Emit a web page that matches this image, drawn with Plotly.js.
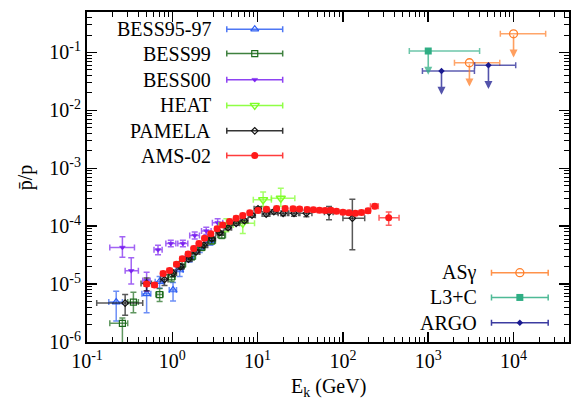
<!DOCTYPE html>
<html><head><meta charset="utf-8">
<script src="https://cdn.plot.ly/plotly-3.0.1.min.js"></script>
<style>html,body{margin:0;padding:0;background:#fff}</style>
</head><body><div id="chart" style="width:572px;height:403px"></div>
<script>
// ---------- data (kinetic energy in GeV, antiproton/proton ratio) ----------
const AMS_E   = [0.50,0.62,0.78,0.93,1.12,1.31,1.53,1.78,2.05,2.39,2.83,3.35,3.90,4.70,5.60,6.70,8.10,10.1,12.7,16.7,21.0,26.0,31.0,38.0,45.0,53.0,62.0,72.0,84.0,100,118,140,165,197,236,344];
const AMS_R   = [1.00e-5,0.96e-5,1.53e-5,1.72e-5,2.20e-5,2.75e-5,3.30e-5,4.10e-5,5.00e-5,6.20e-5,7.40e-5,9.00e-5,1.05e-4,1.20e-4,1.37e-4,1.53e-4,1.70e-4,1.86e-4,1.96e-4,2.02e-4,2.02e-4,2.00e-4,1.98e-4,1.95e-4,1.92e-4,1.88e-4,1.86e-4,1.88e-4,1.82e-4,1.74e-4,1.70e-4,1.67e-4,1.72e-4,1.84e-4,2.22e-4,1.40e-4];
const AMS_dEm = [0.03,0.04,0.05,0.06,0.07,0.08,0.09,0.1,0.12,0.14,0.17,0.2,0.23,0.28,0.33,0.4,0.5,0.6,0.8,1.0,1.3,1.6,1.9,2.3,2.7,3.2,3.7,4.3,5,6,7,8,10,12,26,79];
const AMS_dEp = [0.03,0.04,0.05,0.06,0.07,0.08,0.09,0.1,0.12,0.14,0.17,0.2,0.23,0.28,0.33,0.4,0.5,0.6,0.8,1.0,1.3,1.6,1.9,2.3,2.7,3.2,3.7,4.3,5,6,7,8,10,12,24,111];
const AMS_dR  = [0.08e-5,0.08e-5,0.1e-5,0.1e-5,0.12e-5,0.14e-5,0.16e-5,0.2e-5,0.22e-5,0.25e-5,0.3e-5,0.35e-5,0.4e-5,0.45e-5,0.5e-5,0.55e-5,0.6e-5,0.65e-5,0.7e-5,0.7e-5,0.7e-5,0.7e-5,0.7e-5,0.7e-5,0.7e-5,0.75e-5,0.8e-5,0.8e-5,0.85e-5,0.9e-5,1.0e-5,1.1e-5,1.2e-5,1.4e-5,2.0e-5,3.6e-5];

const PAM_E   = [0.28,0.50,0.81,1.02,1.25,1.55,1.90,2.35,2.90,3.60,4.50,5.60,7.00,8.60,10.1,12.6,15.5,19.9,26.7,37.3,68.7,129];
const PAM_R   = [4.7e-6,1.02e-5,1.2e-5,1.55e-5,2.0e-5,2.7e-5,3.6e-5,4.7e-5,6.1e-5,7.7e-5,9.4e-5,1.12e-4,1.25e-4,1.55e-4,2.0e-4,1.62e-4,1.78e-4,1.67e-4,1.67e-4,1.67e-4,1.74e-4,1.37e-4];
const PAM_dEm = [0.15,0.07,0.08,0.1,0.12,0.15,0.2,0.25,0.3,0.35,0.45,0.55,0.7,0.8,1.0,1.3,1.6,2.5,3.5,6,8,29];
const PAM_dEp = [0.17,0.07,0.08,0.1,0.12,0.15,0.2,0.25,0.3,0.35,0.45,0.55,0.7,0.8,1.0,1.3,1.6,2.5,3.5,6,8,51];
const PAM_dRp = [1.9e-6,2.5e-6,2.5e-6,2e-6,2e-6,2.5e-6,3e-6,4e-6,5e-6,6e-6,7e-6,8e-6,1e-5,1.2e-5,1.4e-5,1.4e-5,1.5e-5,1.6e-5,1.8e-5,2.2e-5,4.5e-5,1.55e-4];
const PAM_dRm = [1.8e-6,2.5e-6,2.5e-6,2e-6,2e-6,2.5e-6,3e-6,4e-6,5e-6,6e-6,7e-6,8e-6,1e-5,1.2e-5,1.4e-5,1.4e-5,1.5e-5,1.6e-5,1.8e-5,2.2e-5,4.5e-5,0.98e-4];

const B97_E  = [0.22,0.50,0.71,1.02,1.22,1.60,2.10,2.80];
const B97_R  = [4.9e-6,6.8e-6,1.1e-5,7.9e-6,1.75e-5,2.9e-5,4.2e-5,5.6e-5];
const B97_dE = [0.04,0.06,0.08,0.1,0.12,0.18,0.25,0.35];
const B97_dR = [2.6e-6,3.6e-6,2.5e-6,2.8e-6,4e-6,5e-6,7e-6,9e-6];

const B99_E   = [0.26,0.35,0.71,0.98,1.30,1.70,2.20,2.90,3.80];
const B99_R   = [2.1e-6,4.9e-6,6.6e-6,1.33e-5,2.2e-5,3.0e-5,4.3e-5,5.6e-5,7.0e-5];
const B99_dEm = [0.075,0.05,0.07,0.1,0.13,0.17,0.22,0.3,0.4];
const B99_dEp = [0.04,0.05,0.07,0.1,0.13,0.17,0.22,0.3,0.4];
const B99_dRp = [0.5e-6,2.3e-6,1.8e-6,2.5e-6,3e-6,4e-6,5e-6,7e-6,9e-6];
const B99_dRm = [2.05e-6,1.7e-6,1.6e-6,2.3e-6,3e-6,4e-6,5e-6,7e-6,9e-6];

const B00_E   = [0.26,0.33,0.50,0.68,0.96,1.33,1.83,2.50,3.40];
const B00_R   = [4.3e-5,1.7e-5,1.15e-5,3.9e-5,5.0e-5,5.0e-5,6.9e-5,8.3e-5,1.15e-4];
const B00_dEm = [0.075,0.05,0.05,0.07,0.12,0.17,0.23,0.3,0.45];
const B00_dEp = [0.10,0.07,0.05,0.08,0.14,0.19,0.25,0.35,0.5];
const B00_dRp = [2.3e-5,1.15e-5,4.5e-6,8e-6,7e-6,7e-6,1e-5,1.3e-5,2e-5];
const B00_dRm = [1.4e-5,0.7e-5,4e-6,7e-6,6e-6,6e-6,9e-6,1.1e-5,1.7e-5];

const HEAT_E   = [4.3,6.7,11.6,18.7];
const HEAT_R   = [1.05e-4,1.12e-4,2.86e-4,3.04e-4];
const HEAT_dEm = [0.8,1.8,2.7,4.2];
const HEAT_dEp = [0.9,2.5,2.9,8.6];
const HEAT_dRp = [3e-5,4.8e-5,1.05e-4,1.5e-4];
const HEAT_dRm = [2.5e-5,3.7e-5,6.7e-5,8.5e-5];

// upper limits
const ASG_E = [3040,10000], ASG_R = [0.0665,0.21], ASG_dEm = [1010,3000], ASG_dEp = [3850,13800];
const L3C_E = [1000],       L3C_R = [0.106],        L3C_dEm = [400],       L3C_dEp = [3000];
const ARGO_E = [1430,5080], ARGO_R = [0.048,0.060], ARGO_dEm = [575,1580], ARGO_dEp = [2050,5520];

const X_TICKS = [0.1,1,10,100,1000,10000];
const X_TICKTEXT = ['10<sup>-1</sup>','10<sup>0</sup>','10<sup>1</sup>','10<sup>2</sup>','10<sup>3</sup>','10<sup>4</sup>'];
const Y_TICKS = [1e-6,1e-5,1e-4,1e-3,1e-2,1e-1];
const Y_TICKTEXT = ['10<sup>-6</sup>','10<sup>-5</sup>','10<sup>-4</sup>','10<sup>-3</sup>','10<sup>-2</sup>','10<sup>-1</sup>'];
const X_TITLE = 'E<sub>k</sub> (GeV)';
const Y_TITLE = 'p\u0304/p';

// ---------- styling ----------
const FONT = '"Liberation Serif", "DejaVu Serif", serif';
function rgba(hex, a){const n=parseInt(hex.slice(1),16);return `rgba(${n>>16},${(n>>8)&255},${n&255},${a})`;}
function errTrace(name, E, R, dEm, dEp, dRm, dRp, color, symbol, size, lineW){
  return {type:'scatter', mode:'markers', name, x:E, y:R, showlegend:false, xaxis:'x', yaxis:'y',
    marker:{color:color, symbol:symbol, size:size, line:{color:color, width:lineW}},
    error_x:{type:'data', symmetric:false, array:dEp, arrayminus:dEm, color:rgba(color,0.7), thickness:1.5, width:3},
    error_y:(dRp? {type:'data', symmetric:false, array:dRp, arrayminus:dRm, color:rgba(color,0.7), thickness:1.5, width:3} : {visible:false})
  };
}
const S = {
  B97:{name:'BESS95-97', color:'#2f5ff2', symbol:'triangle-up-open', size:7, lw:1.2},
  B99:{name:'BESS99',    color:'#1d6b1d', symbol:'square-open',      size:6, lw:1.2},
  B00:{name:'BESS00',    color:'#7a22f0', symbol:'triangle-down',    size:5, lw:0.5},
  HEAT:{name:'HEAT',     color:'#7dff26', symbol:'triangle-down-open', size:8, lw:1.4},
  PAM:{name:'PAMELA',    color:'#111111', symbol:'diamond-open',     size:5, lw:1.2},
  AMS:{name:'AMS-02',    color:'#ff1a1a', symbol:'circle',           size:7, lw:0},
  ASG:{name:'AS\u03b3',  color:'#ff7f2a', symbol:'circle-open',      size:8, lw:1.3},
  L3C:{name:'L3+C',      color:'#2fae84', symbol:'square',           size:7, lw:0},
  ARGO:{name:'ARGO',     color:'#1a1a90', symbol:'diamond',          size:5, lw:0}
};

const traces = [
  errTrace(S.B97.name, B97_E, B97_R, B97_dE, B97_dE, B97_dR, B97_dR, S.B97.color, S.B97.symbol, S.B97.size, S.B97.lw),
  errTrace(S.B99.name, B99_E, B99_R, B99_dEm, B99_dEp, B99_dRm, B99_dRp, S.B99.color, S.B99.symbol, S.B99.size, S.B99.lw),
  errTrace(S.B00.name, B00_E, B00_R, B00_dEm, B00_dEp, B00_dRm, B00_dRp, S.B00.color, S.B00.symbol, S.B00.size, S.B00.lw),
  errTrace(S.HEAT.name, HEAT_E, HEAT_R, HEAT_dEm, HEAT_dEp, HEAT_dRm, HEAT_dRp, S.HEAT.color, S.HEAT.symbol, S.HEAT.size, S.HEAT.lw),
  errTrace(S.PAM.name, PAM_E, PAM_R, PAM_dEm, PAM_dEp, PAM_dRm, PAM_dRp, S.PAM.color, S.PAM.symbol, S.PAM.size, S.PAM.lw),
  errTrace(S.AMS.name, AMS_E, AMS_R, AMS_dEm, AMS_dEp, AMS_dR, AMS_dR, S.AMS.color, S.AMS.symbol, S.AMS.size, S.AMS.lw),
  errTrace(S.ASG.name, ASG_E, ASG_R, ASG_dEm, ASG_dEp, null, null, S.ASG.color, S.ASG.symbol, S.ASG.size, S.ASG.lw),
  errTrace(S.L3C.name, L3C_E, L3C_R, L3C_dEm, L3C_dEp, null, null, S.L3C.color, S.L3C.symbol, S.L3C.size, S.L3C.lw),
  errTrace(S.ARGO.name, ARGO_E, ARGO_R, ARGO_dEm, ARGO_dEp, null, null, S.ARGO.color, S.ARGO.symbol, S.ARGO.size, S.ARGO.lw)
];

// ---------- hand-made legends (text left, sample right) on an overlay 0..1 axis ----------
const annotations = [];
function legendBlock(keys, textX, sampleX, half, rowY){
  keys.forEach((k,i)=>{
    const s = S[k];
    traces.push({type:'scatter', mode:'markers', x:[sampleX], y:[rowY[i]], xaxis:'x2', yaxis:'y2', showlegend:false,
      marker:{color:s.color, symbol:s.symbol, size:s.size, line:{color:s.color, width:s.lw}},
      error_x:{type:'data', array:[half], color:rgba(s.color,0.85), thickness:1.5, width:3}});
    annotations.push({xref:'paper', yref:'paper', x:textX, y:rowY[i], xanchor:'right', yanchor:'middle',
      text:s.name, showarrow:false, font:{family:FONT, size:20, color:'#000'}});
  });
}
legendBlock(['B97','B99','B00','HEAT','PAM','AMS'], 0.262, 0.348, 0.058, [0.948,0.874,0.795,0.717,0.640,0.565]);
legendBlock(['ASG','L3C','ARGO'], 0.814, 0.898, 0.0588, [0.210,0.135,0.058]);

// ---------- upper-limit arrows (tail at the limit, head pointing down) ----------
const ARROW_DEC = 0.41;   // arrow length in decades
[[ASG_E,ASG_R,S.ASG.color],[L3C_E,L3C_R,S.L3C.color],[ARGO_E,ARGO_R,S.ARGO.color]].forEach(([E,R,c])=>{
  E.forEach((e,i)=>{
    const lx = Math.log10(e), ly = Math.log10(R[i]);
    annotations.push({xref:'x', yref:'y', axref:'x', ayref:'y', x:lx, y:ly-ARROW_DEC, ax:lx, ay:ly,
      text:'', showarrow:true, arrowhead:2, arrowsize:1, arrowwidth:1.6, arrowcolor:rgba(c,0.75), standoff:0, startstandoff:0});
  });
});

// ---------- axis titles ----------
annotations.push({xref:'paper', yref:'paper', x:0.5, y:-0.139, xanchor:'center', yanchor:'middle', showarrow:false,
  text:X_TITLE, font:{family:FONT, size:20, color:'#000'}});
annotations.push({xref:'paper', yref:'paper', x:-0.128, y:0.5, xanchor:'center', yanchor:'middle', showarrow:false,
  textangle:-90, text:Y_TITLE, font:{family:FONT, size:20, color:'#000'}});

function minorVals(lo, hi){const v=[];for(let p=lo;p<hi;p++){for(let d=2;d<=9;d++)v.push(d*Math.pow(10,p));}return v;}

const axisCommon = {
  showline:true, linecolor:'#000', linewidth:2, mirror:'ticks', ticks:'inside', ticklen:10, tickwidth:1.5, tickcolor:'#000',
  showgrid:false, zeroline:false, tickfont:{family:FONT, size:20, color:'#000'}, tickmode:'array'
};
const layout = {
  width:572, height:403, margin:{l:87, r:3, t:12, b:61}, paper_bgcolor:'#fff', plot_bgcolor:'#fff', showlegend:false,
  font:{family:FONT, size:20, color:'#000'},
  xaxis: Object.assign({}, axisCommon, {type:'log', range:[-1,4.65], tickvals:X_TICKS, ticktext:X_TICKTEXT,
    minor:{tickmode:'array', tickvals:minorVals(-1,5), ticks:'inside', ticklen:5, tickwidth:1, tickcolor:'#000', showgrid:false}}),
  yaxis: Object.assign({}, axisCommon, {type:'log', range:[-6,-0.301], tickvals:Y_TICKS, ticktext:Y_TICKTEXT,
    minor:{tickmode:'array', tickvals:minorVals(-6,0), ticks:'inside', ticklen:5, tickwidth:1, tickcolor:'#000', showgrid:false}}),
  xaxis2:{overlaying:'x', range:[0,1], visible:false, fixedrange:true},
  yaxis2:{overlaying:'y', range:[0,1], visible:false, fixedrange:true},
  annotations
};
Plotly.newPlot('chart', traces, layout, {staticPlot:true, displayModeBar:false});
</script></body></html>
